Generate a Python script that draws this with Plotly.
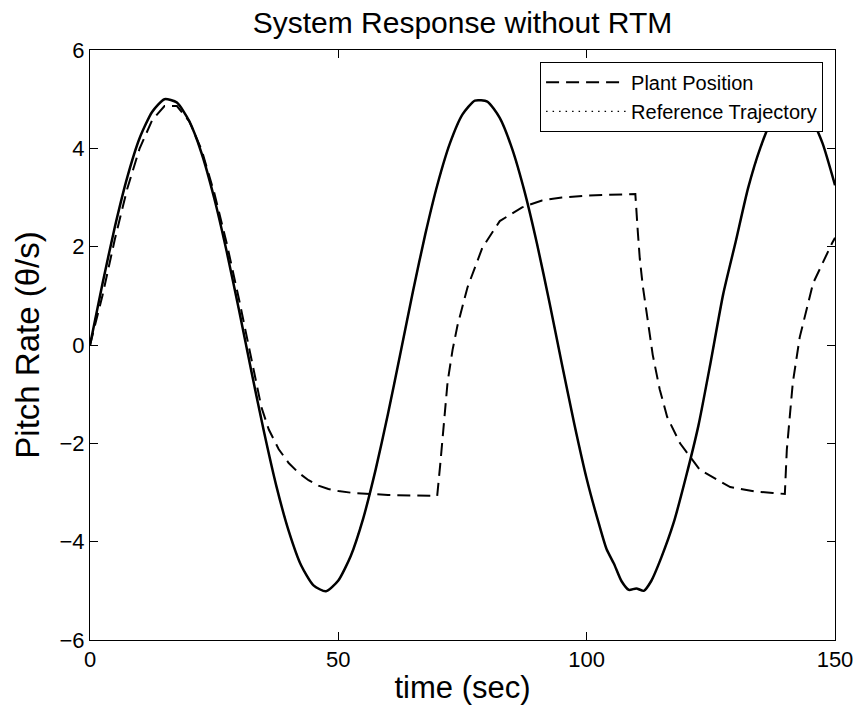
import plotly.graph_objects as go

# ---- data ----
ref_t = [0, 2.5, 5, 7.5, 10, 12.5, 15, 17.5, 20, 22.5, 25, 27.5, 30, 32.5, 35, 37.5, 40,
         42.5, 45, 47.5, 50, 52.5, 55, 57.5, 60, 62.5, 65, 67.5, 70, 72.5, 75, 77.5, 80,
         82.5, 85, 87.5, 90, 92.5, 95, 97.5, 100, 102.5, 104, 105.5, 107, 108.5, 110,
         111.5, 113, 115, 117.5, 120, 122.5, 125, 127.5, 130, 132.5, 135, 137.5, 140,
         142.5, 145, 147.5, 150]
ref_v = [0, 1.24, 2.40, 3.41, 4.21, 4.74, 5.00, 4.93, 4.55, 3.89, 2.99, 1.91, 0.71, -0.54,
         -1.75, -2.86, -3.78, -4.48, -4.89, -5.01, -4.79, -4.29, -3.53, -2.54, -1.40, -0.17,
         1.08, 2.25, 3.28, 4.11, 4.69, 4.97, 4.95, 4.62, 3.99, 3.12, 2.06, 0.87, -0.38,
         -1.60, -2.72, -3.65, -4.15, -4.45, -4.80, -4.98, -4.95, -5.00, -4.80, -4.33,
         -3.62, -2.68, -1.64, -0.33, 1.04, 2.10, 3.19, 4.02, 4.63, 4.95, 4.98, 4.67, 4.10,
         3.25]

plant_t = [0, 2.5, 5, 7.5, 10, 12.5, 15, 17.5, 20, 22.5, 25, 27.5, 30, 32.5, 34.5, 36, 38,
           40, 42, 44, 46, 48, 50, 53, 56, 60, 65, 69.9, 70.5, 71, 72, 73, 74, 76, 79, 82.5,
           87, 91, 95, 100, 105, 109.8, 110.3, 110.7, 111.3, 112.7, 113.3, 114.7, 116.2,
           118.8, 122.8, 128.9, 134, 137.5, 139.9, 140.3, 141.5, 142.9, 145.6, 149.4, 150]
plant_v = [0, 1.00, 2.15, 3.18, 4.00, 4.57, 4.86, 4.86, 4.55, 3.96, 3.10, 2.08, 0.93, -0.30,
           -1.26, -1.72, -2.12, -2.40, -2.60, -2.75, -2.86, -2.93, -2.97, -3.01, -3.03,
           -3.05, -3.06, -3.07, -2.45, -1.85, -0.75, -0.10, 0.40, 1.17, 1.98, 2.52, 2.80,
           2.94, 3.00, 3.04, 3.06, 3.07, 2.30, 1.75, 1.20, 0.20, -0.20, -0.90, -1.46, -2.00,
           -2.54, -2.89, -2.98, -3.01, -3.03, -2.13, -0.77, 0.16, 1.26, 2.07, 2.18]

x_ticks = [0, 50, 100, 150]
y_ticks = [-6, -4, -2, 0, 2, 4, 6]

FONT = "Liberation Sans, Arial, Helvetica, sans-serif"

fig = go.Figure()
fig.add_trace(go.Scatter(x=plant_t, y=plant_v, mode="lines", name="Plant Position",
                         line=dict(color="black", width=2, dash="13px,7px")))
fig.add_trace(go.Scatter(x=ref_t, y=ref_v, mode="lines", showlegend=False,
                         line=dict(color="black", width=2.5, shape="spline", smoothing=0.6)))
fig.add_trace(go.Scatter(x=ref_t, y=ref_v, mode="lines", name="Reference Trajectory",
                         line=dict(color="black", width=1.2, dash="1.5px,5px",
                                   shape="spline", smoothing=0.6)))

axis_common = dict(showline=True, linecolor="black", linewidth=1, mirror="ticks",
                   ticks="inside", ticklen=8, tickcolor="black", tickwidth=1,
                   showgrid=False, zeroline=False, automargin=False,
                   tickfont=dict(family=FONT, size=22, color="black"))

fig.update_layout(
    width=859, height=711,
    margin=dict(l=90, r=24, t=50, b=71),
    paper_bgcolor="white", plot_bgcolor="white",
    font=dict(family=FONT, color="black"),
    title=dict(text="System Response without RTM", x=0.5, xref="paper", xanchor="center",
               y=1 - 22 / 711, yanchor="middle",
               font=dict(family=FONT, size=30, color="black")),
    xaxis=dict(range=[0, 150], tickvals=x_ticks,
               title=dict(text="time (sec)", font=dict(family=FONT, size=31), standoff=4),
               **axis_common),
    yaxis=dict(range=[-6, 6], tickvals=y_ticks,
               title=dict(text="Pitch Rate (θ/s)", font=dict(family=FONT, size=33), standoff=9),
               **axis_common),
    legend=dict(x=0.984, xanchor="right", y=0.98, yanchor="top",
                bgcolor="white", bordercolor="black", borderwidth=1,
                font=dict(family=FONT, size=20, color="black"),
                itemwidth=80, tracegroupgap=0),
    showlegend=True,
)

fig.write_html("out.html")
